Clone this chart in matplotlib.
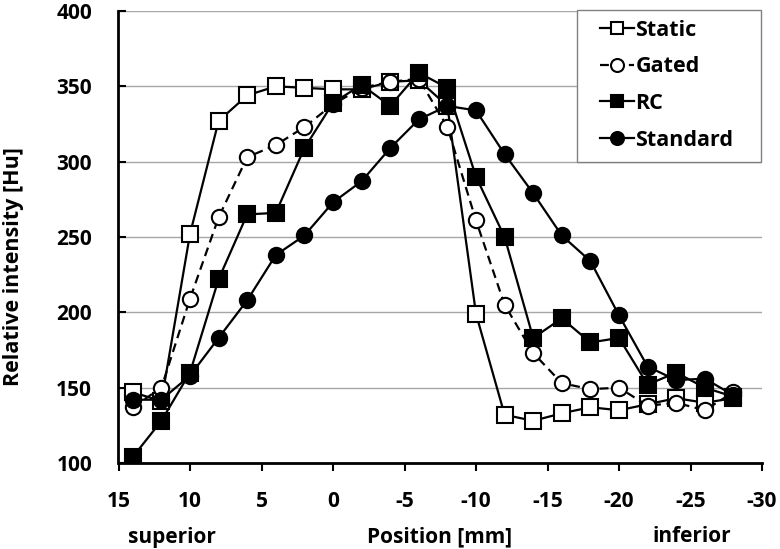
import matplotlib
matplotlib.use('Agg')
import matplotlib.pyplot as plt
from matplotlib.patches import Rectangle

positions = [14, 12, 10, 8, 6, 4, 2, 0, -2, -4, -6, -8, -10, -12, -14, -16, -18, -20, -22, -24, -26, -28]
static = [147, 141, 252, 327, 344, 350, 349, 348, 348, 353, 354, 337, 199, 132, 128, 133, 137, 135, 139, 143, 140, 143]
gated = [137, 150, 209, 263, 303, 311, 323, 338, 349, 353, 355, 323, 261, 205, 173, 153, 149, 150, 138, 140, 135, 147]
rc = [104, 128, 160, 222, 265, 266, 309, 339, 351, 337, 359, 349, 290, 250, 183, 196, 180, 183, 152, 160, 150, 144]
standard = [142, 142, 158, 183, 208, 238, 251, 273, 287, 309, 328, 337, 334, 305, 279, 251, 234, 198, 164, 155, 156, 145]

x_ticks = [15, 10, 5, 0, -5, -10, -15, -20, -25, -30]
y_ticks = [100, 150, 200, 250, 300, 350, 400]

plt.rcParams['font.family'] = ['Open Sans', 'DejaVu Sans']
plt.rcParams['font.weight'] = 'bold'

W, H = 780, 549
fig = plt.figure(figsize=(7.8, 5.49), dpi=100)
ax = fig.add_axes([118.5 / W, 1 - 463 / H, (762 - 118.5) / W, (463 - 11) / H])

lw = 1.6
ms = 11
mew = 1.5
ax.plot(positions, static, color='black', lw=lw, marker='s', ms=ms, mfc='white', mec='black', mew=mew, label='Static', zorder=3)
ax.plot(positions, gated, color='black', lw=lw, ls=(0, (4, 2.5)), marker='o', ms=ms, mfc='white', mec='black', mew=mew, label='Gated', zorder=4)
ax.plot(positions, rc, color='black', lw=lw, marker='s', ms=ms, mfc='black', mec='black', mew=mew, label='RC', zorder=5)
ax.plot(positions, standard, color='black', lw=lw, marker='o', ms=ms, mfc='black', mec='black', mew=mew, label='Standard', zorder=6)

ax.set_xlim(15, -30)
ax.set_ylim(100, 400)
ax.set_xticks(x_ticks)
ax.set_yticks(y_ticks)
ax.set_xticklabels([str(v) for v in x_ticks])
ax.set_yticklabels([str(v) for v in y_ticks])

ax.yaxis.grid(True, color='#a6a6a6', lw=1.0)
ax.set_axisbelow(True)
for s in ['top', 'right']:
    ax.spines[s].set_visible(False)
for s in ['left', 'bottom']:
    ax.spines[s].set_linewidth(2.0)
    ax.spines[s].set_color('black')
    ax.spines[s].set_zorder(10)

ax.tick_params(axis='y', direction='in', length=6, width=1.5, pad=19, labelsize=15)
ax.tick_params(axis='x', direction='out', length=6, width=1.5, pad=14, labelsize=15)
for lab in ax.get_xticklabels() + ax.get_yticklabels():
    lab.set_fontweight('bold')

ax.set_ylabel('Relative intensity [Hu]', fontsize=15.5, fontweight='bold')
ax.yaxis.set_label_coords((24 - 118.5) / (762 - 118.5), (463 - 267) / 452)

fig.text(172 / W, 1 - 537 / H, 'superior', ha='center', va='center', fontsize=15, fontweight='bold')
fig.text(440 / W, 1 - 537 / H, 'Position [mm]', ha='center', va='center', fontsize=15, fontweight='bold')
fig.text(692 / W, 1 - 537 / H, 'inferior', ha='center', va='center', fontsize=15, fontweight='bold')

# legend frame
frame = Rectangle((577 / W, 1 - 162 / H), (761 - 577) / W, (162 - 10) / H, transform=fig.transFigure,
                  facecolor='white', edgecolor='#808080', lw=1.0, zorder=19, clip_on=False)
ax.add_patch(frame)

leg = ax.legend(loc='upper left', bbox_to_anchor=(600 / W, 1 - 20 / H), bbox_transform=fig.transFigure,
                borderaxespad=0, frameon=False,
                prop={'size': 15.5, 'weight': 'bold'}, handlelength=1.6, handletextpad=0.05,
                labelspacing=0.72, borderpad=0, markerscale=0.85)
leg.set_zorder(20)

fig.savefig('out.png', dpi=100)
